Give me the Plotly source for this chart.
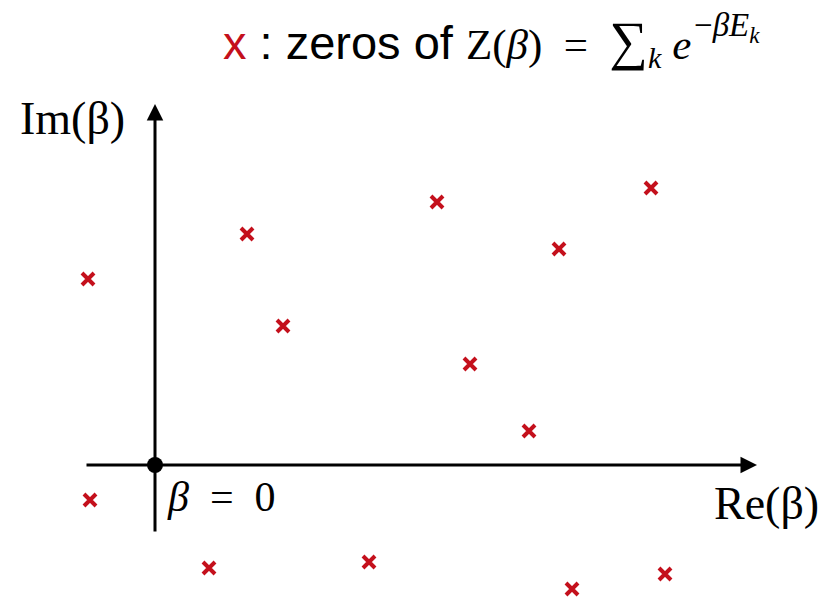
import plotly.graph_objects as go

# Zeros of the partition function in the complex beta plane
zero_re = [-0.67, 0.92, 1.28, 2.82, 3.15, 4.04, 4.96, 3.74, -0.65, 0.54, 2.14, 4.17, 5.10]
zero_im = [1.86, 2.31, 1.39, 2.63, 1.01, 2.16, 2.77, 0.34, -0.35, -1.03, -0.97, -1.24, -1.09]

origin_re = [0.0]
origin_im = [0.0]

W, H = 826, 597
x_range = [-1.55, 6.71]
y_range = [-1.32, 4.65]

RED = "#c4101c"
serif = "Liberation Serif, Times New Roman, serif"
sans = "Liberation Sans, Arial, sans-serif"

fig = go.Figure()

fig.add_trace(go.Scatter(
    x=zero_re, y=zero_im, mode="markers",
    marker=dict(symbol="x-thin", size=12, color=RED, line=dict(width=4, color=RED)),
    hoverinfo="skip", showlegend=False,
))

# Axes drawn as arrows through the origin
axis_kw = dict(xref="x", yref="y", axref="x", ayref="y", text="", showarrow=True,
               arrowhead=2, arrowsize=1.1, arrowwidth=3, arrowcolor="black")
fig.add_annotation(x=6.02, y=0, ax=-0.70, ay=0, **axis_kw)
fig.add_annotation(x=0, y=3.61, ax=0, ay=-0.68, **axis_kw)

fig.add_trace(go.Scatter(
    x=origin_re, y=origin_im, mode="markers",
    marker=dict(symbol="circle", size=16, color="black"),
    hoverinfo="skip", showlegend=False,
))

fig.add_annotation(x=-1.37, y=3.47, xref="x", yref="y", text="Im(β)", showarrow=False,
                   xanchor="left", yanchor="middle", font=dict(family=serif, size=46, color="black"))
fig.add_annotation(x=5.57, y=-0.38, xref="x", yref="y", text="Re(β)", showarrow=False,
                   xanchor="left", yanchor="middle", font=dict(family=serif, size=46, color="black"))
fig.add_annotation(x=0.10, y=-0.32, xref="x", yref="y", text="<i>β</i>\u2002=\u20020", showarrow=False,
                   xanchor="left", yanchor="middle", font=dict(family=serif, size=42, color="black"))

# Legend-style heading: marker key plus the partition function
title = (f'<span style="color:{RED}">x</span> : zeros of '
         '<span style="font-family:Liberation Serif;font-size:43px">Z(<i>β</i>)\u2002=\u2002'
         '<span style="font-size:54px">∑</span><sub><i>k</i></sub> <i>e</i></span>')
fig.add_annotation(x=0.66, y=4.22, xref="x", yref="y", text=title, showarrow=False,
                   xanchor="left", yanchor="middle", font=dict(family=sans, size=47, color="black"))
# Exponent of e, set as its own raised line
fig.add_annotation(x=5.37, y=4.38, xref="x", yref="y",
                   text="−<i>βE</i><sub><i>k</i></sub>", showarrow=False,
                   xanchor="left", yanchor="middle", font=dict(family=serif, size=33, color="black"))

fig.update_xaxes(range=x_range, visible=False, fixedrange=True)
fig.update_yaxes(range=y_range, visible=False, fixedrange=True)
fig.update_layout(width=W, height=H, margin=dict(l=0, r=0, t=0, b=0),
                  plot_bgcolor="white", paper_bgcolor="white")

fig.write_html("out.html", config={"displayModeBar": False})
